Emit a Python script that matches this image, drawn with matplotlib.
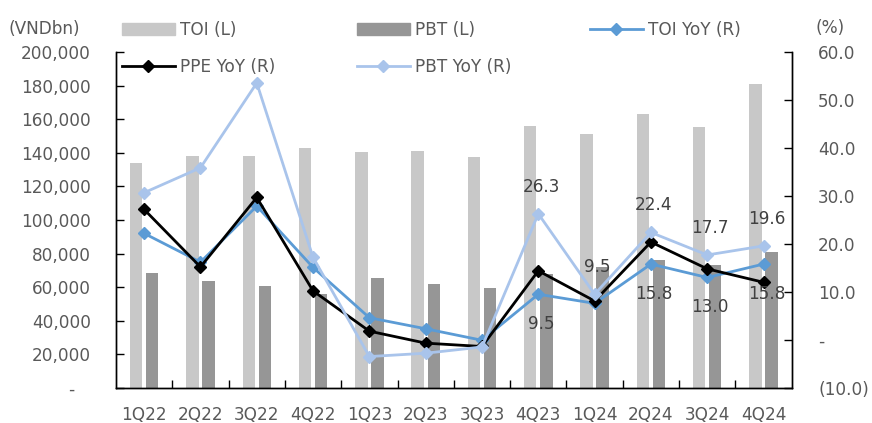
import numpy as np
import matplotlib.pyplot as plt
from matplotlib.lines import Line2D
from matplotlib.patches import Patch
from matplotlib.ticker import FuncFormatter

quarters = ['1Q22', '2Q22', '3Q22', '4Q22', '1Q23', '2Q23',
            '3Q23', '4Q23', '1Q24', '2Q24', '3Q24', '4Q24']

# VNDbn, left axis
toi = [134200, 138200, 138200, 143000, 140400, 141100,
       137700, 156200, 151100, 163400, 155500, 180900]
pbt = [68200, 63600, 60500, 56000, 65600, 62000,
       59500, 67800, 72000, 76000, 73000, 80900]

# %, right axis
toi_yoy = [22.2, 16.2, 27.9, 15.1, 4.6, 2.3, -0.1, 9.5, 7.6, 15.8, 13.0, 15.8]
ppe_yoy = [27.2, 15.2, 29.7, 10.2, 1.8, -0.7, -1.4, 14.4, 8.1, 20.4, 14.8, 12.0]
pbt_yoy = [30.7, 35.9, 53.6, 17.2, -3.5, -2.8, -1.5, 26.3, 9.5, 22.4, 17.7, 19.6]

# which points carry a value label
toi_yoy_labelled = [7, 9, 10, 11]
pbt_yoy_labelled = [7, 8, 9, 10, 11]

C_TOI = '#c8c8c8'
C_PBT = '#969696'
C_TOI_YOY = '#5b9bd5'
C_PPE_YOY = '#000000'
C_PBT_YOY = '#a9c4eb'
TXT = '#595959'
LBL = '#404040'

plt.rcParams['font.family'] = 'DejaVu Sans'
FS = 12.2

fig = plt.figure(figsize=(8.72, 4.23), dpi=100)
ax = fig.add_axes([116 / 872, 1 - 387.7 / 423, (791.7 - 116) / 872, (387.7 - 52.3) / 423])
ax2 = ax.twinx()

x = np.arange(len(quarters))
bw = 0.22
ax.bar(x - 0.143, toi, bw, color=C_TOI, zorder=2)
ax.bar(x + 0.143, pbt, bw, color=C_PBT, zorder=2)

ax.set_xlim(-0.5, len(quarters) - 0.5)
ax.set_ylim(0, 200000)
ax.set_yticks(np.arange(0, 200001, 20000))
ax.yaxis.set_major_formatter(FuncFormatter(lambda v, p: '-   ' if v == 0 else f'{v:,.0f}'))
ax.set_xticks(x)
ax.set_xticklabels(quarters)
ax.set_xticks(np.arange(0.5, len(quarters) - 1, 1), minor=True)
ax.tick_params(axis='x', which='major', length=0, pad=13, labelsize=FS, labelcolor=TXT)
ax.tick_params(axis='x', which='minor', direction='in', length=6, width=1)
ax.tick_params(axis='y', direction='in', length=6, width=1, pad=18, labelsize=FS, labelcolor=TXT)

kw = dict(lw=2.0, marker='D', markersize=6)
ax2.plot(x, toi_yoy, color=C_TOI_YOY, **kw)
ax2.plot(x, ppe_yoy, color=C_PPE_YOY, **kw)
ax2.plot(x, pbt_yoy, color=C_PBT_YOY, **kw)

ax2.set_ylim(-10, 60)
ax2.set_yticks(np.arange(-10, 61, 10))


def pct_fmt(v, p):
    if abs(v) < 1e-9:
        return '-'
    if v < 0:
        return f'({-v:.1f})'
    return f'{v:.1f}'


ax2.yaxis.set_major_formatter(FuncFormatter(pct_fmt))
ax2.tick_params(axis='y', direction='in', length=6, width=1, pad=19, labelsize=FS, labelcolor=TXT)

for a in (ax, ax2):
    a.spines['top'].set_visible(False)
    for s in a.spines.values():
        s.set_linewidth(1)
        s.set_color('black')

for i in toi_yoy_labelled:
    ax2.annotate(f'{toi_yoy[i]:.1f}', (x[i], toi_yoy[i]), xytext=(3, -30),
                 textcoords='offset pixels', ha='center', va='center',
                 fontsize=FS, color=LBL)
for i in pbt_yoy_labelled:
    ax2.annotate(f'{pbt_yoy[i]:.1f}', (x[i], pbt_yoy[i]), xytext=(3, 27),
                 textcoords='offset pixels', ha='center', va='center',
                 fontsize=FS, color=LBL)

# legend, three columns placed across the top
h_toi = Patch(color=C_TOI)
h_pbt = Patch(color=C_PBT)
h_toi_yoy = Line2D([], [], color=C_TOI_YOY, **kw)
h_ppe_yoy = Line2D([], [], color=C_PPE_YOY, **kw)
h_pbt_yoy = Line2D([], [], color=C_PBT_YOY, **kw)

leg_kw = dict(loc='upper left', frameon=False, fontsize=FS, borderpad=0,
              borderaxespad=0, handlelength=3.1, handletextpad=0.35,
              labelspacing=1.1, labelcolor=TXT, markerscale=1.0)
columns = [
    ([h_toi, h_ppe_yoy], ['TOI (L)', 'PPE YoY (R)'], 122),
    ([h_pbt, h_pbt_yoy], ['PBT (L)', 'PBT YoY (R)'], 357),
    ([h_toi_yoy], ['TOI YoY (R)'], 590),
]
for handles, labels, px in columns:
    leg = fig.legend(handles, labels, bbox_to_anchor=(px / 872, 1 - 21 / 423), **leg_kw)

fig.text(8 / 872, 1 - 29 / 423, '(VNDbn)', fontsize=FS, color=TXT, va='center', ha='left')
fig.text(815 / 872, 1 - 28 / 423, '(%)', fontsize=FS, color=TXT, va='center', ha='left')

fig.savefig('out.png', dpi=100)
